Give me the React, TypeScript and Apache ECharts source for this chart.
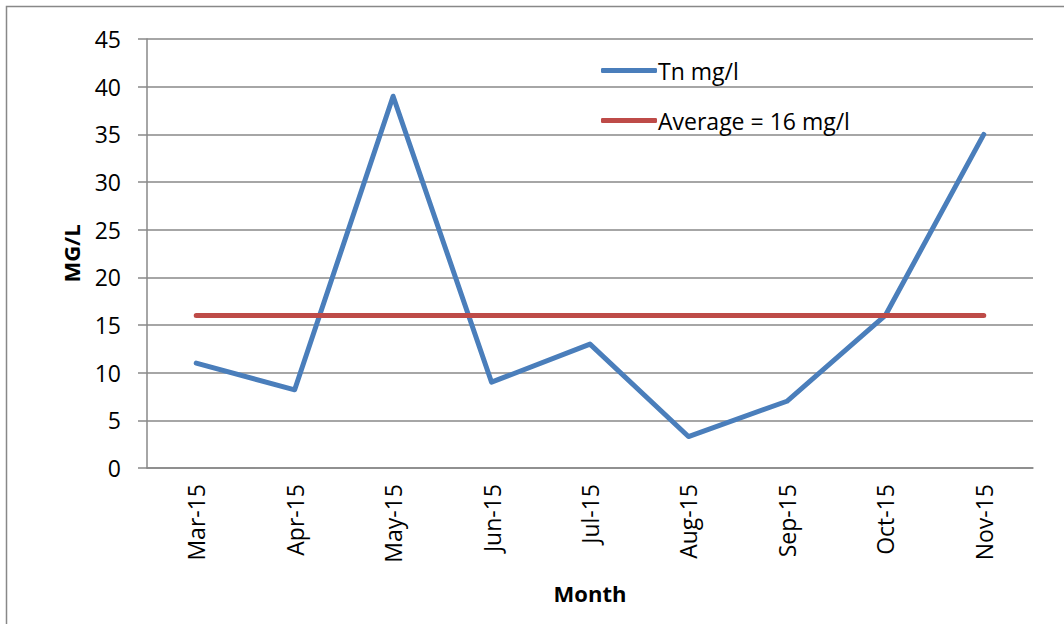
import React, { useEffect, useRef } from "react";
import * as echarts from "echarts";

const months = ["Mar-15", "Apr-15", "May-15", "Jun-15", "Jul-15", "Aug-15", "Sep-15", "Oct-15", "Nov-15"];
const tnValues = [11, 8.2, 39, 9, 13, 3.3, 7, 16, 35];
const averageValues = [16, 16, 16, 16, 16, 16, 16, 16, 16];
const tnName = "Tn mg/l";
const avgName = "Average = 16 mg/l";

export default function App() {
  const ref = useRef<HTMLDivElement>(null);
  useEffect(() => {
    if (!ref.current) return;
    const chart = echarts.init(ref.current, null, { renderer: "svg" });
    const font = "'Open Sans', 'Liberation Sans', sans-serif";
    chart.setOption({
      animation: false,
      backgroundColor: "#ffffff",
      textStyle: { fontFamily: font },
      graphic: [
        {
          type: "rect",
          shape: { x: 6.5, y: 6.5, width: 1200, height: 800 },
          style: { fill: "none", stroke: "#888888", lineWidth: 1.5 },
          silent: true,
        },
      ],
      grid: { left: 147, right: 31, top: 39, bottom: 156 },
      legend: {
        orient: "vertical",
        left: 596,
        top: 54,
        itemWidth: 56,
        itemHeight: 5,
        itemGap: 27,
        icon: "roundRect",
        textStyle: { fontSize: 23, color: "#000", fontFamily: font, padding: [0, 0, 0, -4] },
        data: [tnName, avgName],
      },
      xAxis: {
        type: "category",
        data: months,
        boundaryGap: true,
        name: "Month",
        nameLocation: "middle",
        nameGap: 114,
        nameTextStyle: { fontSize: 22, fontWeight: "bold", color: "#000", fontFamily: font },
        axisLine: { lineStyle: { color: "#888888", width: 1.5 } },
        axisTick: { show: false },
        axisLabel: { rotate: 90, fontSize: 23, color: "#000", margin: 16, fontFamily: font },
      },
      yAxis: {
        type: "value",
        min: 0,
        max: 45,
        interval: 5,
        name: "MG/L",
        nameLocation: "middle",
        nameGap: 65,
        nameTextStyle: { fontSize: 22, fontWeight: "bold", color: "#000", fontFamily: font },
        axisLine: { show: true, lineStyle: { color: "#888888", width: 1.5 } },
        axisTick: { show: true, inside: false, length: 9, lineStyle: { color: "#888888", width: 1.5 } },
        axisLabel: { fontSize: 23, color: "#000", margin: 26, fontFamily: font },
        splitLine: { lineStyle: { color: "#888888", width: 1.5 } },
      },
      series: [
        {
          name: tnName,
          type: "line",
          data: tnValues,
          symbol: "none",
          lineStyle: { color: "#4A7EBB", width: 5, cap: "round", join: "round" },
          itemStyle: { color: "#4A7EBB" },
        },
        {
          name: avgName,
          type: "line",
          data: averageValues,
          symbol: "none",
          lineStyle: { color: "#BE4B48", width: 5, cap: "round" },
          itemStyle: { color: "#BE4B48" },
        },
      ],
    });
    return () => chart.dispose();
  }, []);
  return (
    <div
      ref={ref}
      style={{ position: "fixed", left: 0, top: 0, width: 1064, height: 624 }}
    />
  );
}
